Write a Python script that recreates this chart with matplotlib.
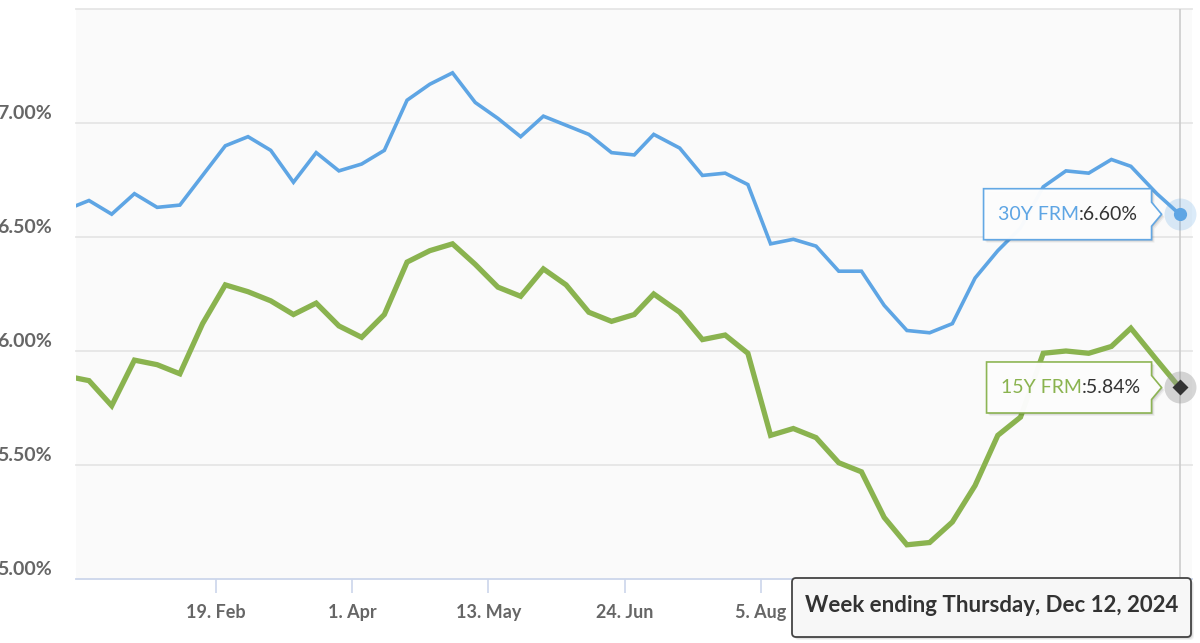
import matplotlib
matplotlib.use("Agg")
import matplotlib.pyplot as plt
import matplotlib.dates as mdates
import numpy as np
import pandas as pd
from matplotlib.patches import Polygon, FancyBboxPatch
from matplotlib.transforms import IdentityTransform, ScaledTranslation

# Freddie Mac PMMS weekly averages, 2024
weeks = [
    "2024-01-04", "2024-01-11", "2024-01-18", "2024-01-25",
    "2024-02-01", "2024-02-08", "2024-02-15", "2024-02-22", "2024-02-29",
    "2024-03-07", "2024-03-14", "2024-03-21", "2024-03-28",
    "2024-04-04", "2024-04-11", "2024-04-18", "2024-04-25",
    "2024-05-02", "2024-05-09", "2024-05-16", "2024-05-23", "2024-05-30",
    "2024-06-06", "2024-06-13", "2024-06-20", "2024-06-27",
    "2024-07-03", "2024-07-11", "2024-07-18", "2024-07-25",
    "2024-08-01", "2024-08-08", "2024-08-15", "2024-08-22", "2024-08-29",
    "2024-09-05", "2024-09-12", "2024-09-19", "2024-09-26",
    "2024-10-03", "2024-10-10", "2024-10-17", "2024-10-24", "2024-10-31",
    "2024-11-07", "2024-11-14", "2024-11-21", "2024-11-27",
    "2024-12-05", "2024-12-12",
]
rate_30y = [
    6.62, 6.66, 6.60, 6.69,
    6.63, 6.64, 6.77, 6.90, 6.94,
    6.88, 6.74, 6.87, 6.79,
    6.82, 6.88, 7.10, 7.17,
    7.22, 7.09, 7.02, 6.94, 7.03,
    6.99, 6.95, 6.87, 6.86,
    6.95, 6.89, 6.77, 6.78,
    6.73, 6.47, 6.49, 6.46, 6.35,
    6.35, 6.20, 6.09, 6.08,
    6.12, 6.32, 6.44, 6.54, 6.72,
    6.79, 6.78, 6.84, 6.81,
    6.69, 6.60,
]
rate_15y = [
    5.89, 5.87, 5.76, 5.96,
    5.94, 5.90, 6.12, 6.29, 6.26,
    6.22, 6.16, 6.21, 6.11,
    6.06, 6.16, 6.39, 6.44,
    6.47, 6.38, 6.28, 6.24, 6.36,
    6.29, 6.17, 6.13, 6.16,
    6.25, 6.17, 6.05, 6.07,
    5.99, 5.63, 5.66, 5.62, 5.51,
    5.47, 5.27, 5.15, 5.16,
    5.25, 5.41, 5.63, 5.71, 5.99,
    6.00, 5.99, 6.02, 6.10,
    5.96, 5.84,
]
y_ticks = [5.0, 5.5, 6.0, 6.5, 7.0]
# later ticks (16 Sep, 28 Oct, 9 Dec) are hidden under the date tooltip
x_ticks = ["2024-02-19", "2024-04-01", "2024-05-13", "2024-06-24", "2024-08-05"]
x_tick_labels = ["19. Feb", "1. Apr", "13. May", "24. Jun", "5. Aug"]
x_range = ["2024-01-07", "2024-12-15 20:00"]
y_range = [5.0, 7.5]
hover_title = "Week ending Thursday, Dec 12, 2024"

BLUE = "#5ea5e4"
GREEN = "#8ab34f"
GRID = "#e6e6e6"
AXIS = "#ccd6eb"
LABEL = "#666666"
FONT = "Lato"

W, H = 1200, 643
dates = pd.to_datetime(weeks)

fig = plt.figure(figsize=(W / 100, H / 100), dpi=100)
fig.patch.set_facecolor("white")
ax = fig.add_axes([76 / W, 1 - 579 / H, (1192 - 76) / W, (579 - 9) / H])
ax.set_facecolor("#fafafa")

ax.set_xlim(pd.to_datetime(x_range[0]), pd.to_datetime(x_range[1]))
ax.set_ylim(*y_range)

# grid
for v in y_ticks[1:] + [y_range[1]]:
    ax.axhline(v, color=GRID, lw=1.3, zorder=1, clip_on=False)
for s in ["left", "right", "top"]:
    ax.spines[s].set_visible(False)
ax.spines["bottom"].set_color(AXIS)
ax.spines["bottom"].set_linewidth(1.3)

# crosshair on the hovered week
ax.axvline(dates[-1], color="#cccccc", lw=1.2, zorder=2)

ax.plot(dates, rate_30y, color=BLUE, lw=2.6, solid_joinstyle="miter", zorder=3)
ax.plot(dates, rate_15y, color=GREEN, lw=3.8, solid_joinstyle="miter", zorder=3)

# hover markers
ax.plot(dates[-1], rate_30y[-1], "o", ms=23, color=BLUE, alpha=0.22,
        mec="none", clip_on=False, zorder=4)
ax.plot(dates[-1], rate_30y[-1], "o", ms=9.5, color=BLUE, mec="none",
        clip_on=False, zorder=5)
ax.plot(dates[-1], rate_15y[-1], "o", ms=23, color="#999999", alpha=0.4,
        mec="none", clip_on=False, zorder=4)
ax.plot(dates[-1], rate_15y[-1], "D", ms=8, color="#333333", mec="none",
        clip_on=False, zorder=5)

# x ticks
ax.set_xticks(pd.to_datetime(x_ticks))
ax.set_xticklabels(x_tick_labels)
ax.tick_params(axis="x", length=10, width=1.2, color=AXIS, pad=8,
               labelsize=13, labelcolor=LABEL)
for lab in ax.get_xticklabels():
    lab.set_fontfamily(FONT)
    lab.set_fontweight("bold")

# y labels sit just above their grid line, partly cut at the left edge
ax.set_yticks([])
ylab_tr = ax.get_yaxis_transform() + ScaledTranslation(-0.24, 0.095, fig.dpi_scale_trans)
for v in y_ticks:
    ax.text(0, v, f"{v:.2f}%", transform=ylab_tr, ha="right", va="center",
            fontsize=14, fontweight="bold", color=LABEL, family=FONT)

fig.canvas.draw()
ident = IdentityTransform()


def tooltip(series_val, color, name, value_text, width):
    px, py = ax.transData.transform((mdates.date2num(dates[-1]), series_val))
    right = px - 28
    left = right - width
    top, bot = py + 25.5, py - 25.5
    pts = [(left, bot), (left, top), (right, top), (right, py + 12),
           (right + 10, py), (right, py - 12), (right, bot)]
    for k, a in [(3, 0.05), (2, 0.07), (1, 0.1)]:
        sh = [(x + k, y - k) for x, y in pts]
        fig.add_artist(Polygon(sh, closed=True, transform=ident, fc="black",
                               ec="none", alpha=a, zorder=9))
    fig.add_artist(Polygon(pts, closed=True, transform=ident, fc="white",
                           ec=color, lw=1.2, alpha=0.97, zorder=10))
    t1 = fig.text(left + 14, py, name, transform=ident, ha="left", va="center",
                  fontsize=14, color=color, family=FONT, zorder=11)
    fig.canvas.draw()
    bb = t1.get_window_extent()
    fig.text(bb.x1, py, value_text, transform=ident, ha="left", va="center",
             fontsize=14, color="#333333", family=FONT, zorder=11)


tooltip(rate_30y[-1], BLUE, "30Y FRM", f":{rate_30y[-1]:.2f}%", 168)
tooltip(rate_15y[-1], GREEN, "15Y FRM", f":{rate_15y[-1]:.2f}%", 165)

# bottom date tooltip
bx0, bx1, by_top, by_bot = 792, 1191, 578, 637
for k, a in [(3, 0.05), (2, 0.07), (1, 0.1)]:
    fig.add_artist(FancyBboxPatch((bx0 + k, H - by_bot - k), bx1 - bx0, by_bot - by_top,
                                  boxstyle="round,pad=0,rounding_size=4", transform=ident,
                                  fc="black", ec="none", alpha=a, zorder=9))
fig.add_artist(FancyBboxPatch((bx0, H - by_bot), bx1 - bx0, by_bot - by_top,
                              boxstyle="round,pad=0,rounding_size=4", transform=ident,
                              fc="#f7f7f7", ec="#444444", lw=1.3, zorder=10))
fig.text((bx0 + bx1) / 2, H - 605, hover_title, transform=ident, ha="center",
         va="center", fontsize=16, fontweight="bold", color="#333333",
         family=FONT, zorder=11)

fig.savefig("out.png", dpi=100)
